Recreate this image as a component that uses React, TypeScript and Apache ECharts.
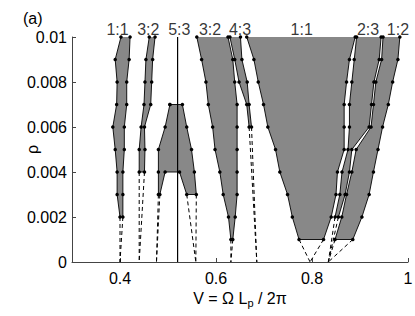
import React, { useEffect, useRef } from "react";
import * as echarts from "echarts";

// rho levels (y values) from top to bottom
const rhoLevels = [0.01, 0.009, 0.008, 0.007, 0.006, 0.005, 0.004, 0.003, 0.002, 0.001];

// Tongue 1:1 (left, near V=0.4), levels 0.01..0.002
const t11aLeft = [0.402, 0.39, 0.394, 0.393, 0.385, 0.39, 0.394, 0.394, 0.4];
const t11aRight = [0.421, 0.419, 0.414, 0.414, 0.409, 0.409, 0.406, 0.406, 0.406];
const t11aZero = 0.4;

// Tongue 3:2 (narrow, near V=0.45), levels 0.01..0.004
const t32aLeft = [0.461, 0.454, 0.452, 0.45, 0.444, 0.44, 0.44];
const t32aRight = [0.473, 0.468, 0.466, 0.464, 0.451, 0.452, 0.451];
const t32aZero = 0.44;

// Tongue 5:3 (closed outline)
const t53X = [0.504, 0.494, 0.48, 0.48, 0.48, 0.483, 0.494, 0.524, 0.539, 0.559, 0.555, 0.549, 0.539, 0.53];
const t53Y = [0.007, 0.006, 0.005, 0.004, 0.003, 0.003, 0.004, 0.004, 0.003, 0.003, 0.004, 0.005, 0.006, 0.007];
const t53LeftZero = 0.476;
const t53RightZero = 0.558;
const t53LineX = 0.52;

// Tongue 3:2 (wide), levels 0.01..0.001
const t32bLeft = [0.56, 0.57, 0.579, 0.584, 0.593, 0.598, 0.608, 0.615, 0.626, 0.631];
const t32bRight = [0.625, 0.635, 0.639, 0.644, 0.644, 0.644, 0.644, 0.644, 0.64, 0.635];
const t32bZero = 0.631;

// Tongue 4:3, levels 0.01..0.006
const t43Left = [0.629, 0.639, 0.648, 0.664, 0.669];
const t43Right = [0.651, 0.654, 0.665, 0.669, 0.674];
const t43Zero = 0.685;

// Tongue 1:1 (wide), levels 0.01..0.001
const t11bLeft = [0.664, 0.679, 0.688, 0.699, 0.708, 0.724, 0.733, 0.749, 0.759, 0.773];
const t11bRight = [0.89, 0.878, 0.872, 0.867, 0.867, 0.867, 0.853, 0.85, 0.84, 0.824];
const t11bZero = 0.796;

// Tongue 2:3, levels 0.01..0.002
const t23Left = [0.893, 0.888, 0.883, 0.878, 0.878, 0.875, 0.8625, 0.858, 0.848];
const t23Right = [0.944, 0.94, 0.929, 0.924, 0.919, 0.883, 0.878, 0.869, 0.855];
const t23Zero = 0.834;

// Tongue 1:2, levels 0.01..0.001
const t12Left = [0.948, 0.945, 0.933, 0.928, 0.923, 0.892, 0.883, 0.872, 0.862, 0.848];
const t12Right = [0.983, 0.979, 0.968, 0.959, 0.947, 0.9375, 0.928, 0.919, 0.904, 0.885];
const t12Zero = 0.834;

// Top labels
const labelNames = ["1:1", "3:2", "5:3", "3:2", "4:3", "1:1", "2:3", "1:2"];
const labelX = [0.395, 0.459, 0.5235, 0.5875, 0.65, 0.7785, 0.9167, 0.979];

const xTicks = [0.4, 0.6, 0.8, 1];

const FONT = '"Liberation Sans", Arial, Helvetica, sans-serif';
const FILL = "#888888";

const zip = (xs: number[]) => xs.map((x, i) => [x, rhoLevels[i]]);

function fillSeries(pts: number[][]) {
  return {
    type: "custom",
    silent: true,
    z: 1,
    data: [pts[0]],
    renderItem: (_p: any, api: any) => ({
      type: "polygon",
      shape: { points: pts.map((p) => api.coord(p)) },
      style: { fill: FILL, stroke: null },
    }),
  };
}

function outlineSeries(pts: number[][]) {
  return {
    type: "line",
    silent: true,
    z: 3,
    data: pts,
    symbol: "circle",
    symbolSize: 3.5,
    showSymbol: true,
    itemStyle: { color: "#000" },
    lineStyle: { color: "#000", width: 0.9 },
  };
}

function dashSeries(from: number[], zero: number) {
  return {
    type: "line",
    silent: true,
    z: 2,
    data: [from, [zero, 0]],
    symbol: "none",
    lineStyle: { color: "#000", width: 1, type: [4, 3] },
  };
}

function tongueSeries(left: number[], right: number[], zero: number) {
  const l = zip(left);
  const r = zip(right);
  const poly = [...l, ...r.slice().reverse()];
  return [
    fillSeries(poly),
    outlineSeries(poly),
    dashSeries(l[l.length - 1], zero),
    dashSeries(r[r.length - 1], zero),
  ];
}

export default function App() {
  const ref = useRef<HTMLDivElement>(null);
  useEffect(() => {
    if (!ref.current) return;
    const chart = echarts.init(ref.current, null, { renderer: "svg" });

    const t53Pts = t53X.map((x, i) => [x, t53Y[i]]);
    const t53Closed = [...t53Pts, t53Pts[0]];

    const series: any[] = [
      ...tongueSeries(t11aLeft, t11aRight, t11aZero),
      ...tongueSeries(t32aLeft, t32aRight, t32aZero),
      fillSeries(t53Pts),
      outlineSeries(t53Closed),
      dashSeries(t53Pts[4], t53LeftZero),
      dashSeries(t53Pts[5], t53LeftZero),
      dashSeries(t53Pts[8], t53RightZero),
      dashSeries(t53Pts[9], t53RightZero),
      {
        type: "line",
        silent: true,
        z: 4,
        data: [
          [t53LineX, 0],
          [t53LineX, 0.01],
        ],
        symbol: "none",
        lineStyle: { color: "#000", width: 1.2 },
      },
      ...tongueSeries(t32bLeft, t32bRight, t32bZero),
      ...tongueSeries(t43Left, t43Right, t43Zero),
      ...tongueSeries(t11bLeft, t11bRight, t11bZero),
      ...tongueSeries(t23Left, t23Right, t23Zero),
      ...tongueSeries(t12Left, t12Right, t12Zero),
      {
        type: "scatter",
        silent: true,
        clip: false,
        z: 5,
        symbolSize: 0,
        data: labelX.map((x) => [x, 0.01]),
        label: {
          show: true,
          position: "top",
          distance: 0,
          formatter: (p: any) => labelNames[p.dataIndex],
          fontSize: 16,
          color: "#000",
          fontFamily: FONT,
        },
      },
    ];

    chart.setOption({
      animation: false,
      backgroundColor: "#fff",
      grid: { left: 72, right: 7, top: 37, bottom: 54, containLabel: false, outerBoundsMode: "none" },
      graphic: [
        {
          type: "text",
          left: 23,
          top: 10,
          style: { text: "(a)", fontSize: 16, fill: "#000", fontFamily: FONT },
        },
      ],
      xAxis: {
        type: "value",
        min: 0.3,
        max: 1,
        splitLine: { show: false },
        axisLine: { show: true, lineStyle: { color: "#444", width: 1 } },
        axisTick: { show: true, inside: true, length: 4, customValues: xTicks, lineStyle: { color: "#444" } },
        axisLabel: {
          customValues: xTicks,
          formatter: (v: number) => String(v),
          fontSize: 16,
          color: "#000",
          margin: 8,
          fontFamily: FONT,
        },
        name: "V = Ω L{sub|p} / 2π",
        nameLocation: "middle",
        nameGap: 26,
        nameMoveOverlap: false,
        nameTextStyle: {
          fontSize: 16,
          color: "#000",
          fontFamily: FONT,
          rich: { sub: { fontSize: 11, padding: [9, 0, 0, 0], fontFamily: FONT, color: "#000" } },
        },
      },
      yAxis: {
        type: "value",
        min: 0,
        max: 0.01,
        interval: 0.002,
        splitLine: { show: false },
        axisLine: { show: true, lineStyle: { color: "#444", width: 1 } },
        axisTick: { show: true, inside: true, length: 4, lineStyle: { color: "#444" } },
        axisLabel: {
          formatter: (v: number) => String(parseFloat(v.toFixed(4))),
          fontSize: 16,
          color: "#000",
          margin: 5,
          fontFamily: FONT,
        },
        name: "ρ",
        nameLocation: "middle",
        nameGap: 32,
        nameMoveOverlap: false,
        nameTextStyle: { fontSize: 16, color: "#000", fontFamily: FONT },
      },
      series,
    });
    return () => chart.dispose();
  }, []);
  return (
    <div
      ref={ref}
      style={{ position: "fixed", left: 0, top: 0, width: 415, height: 316 }}
    />
  );
}
